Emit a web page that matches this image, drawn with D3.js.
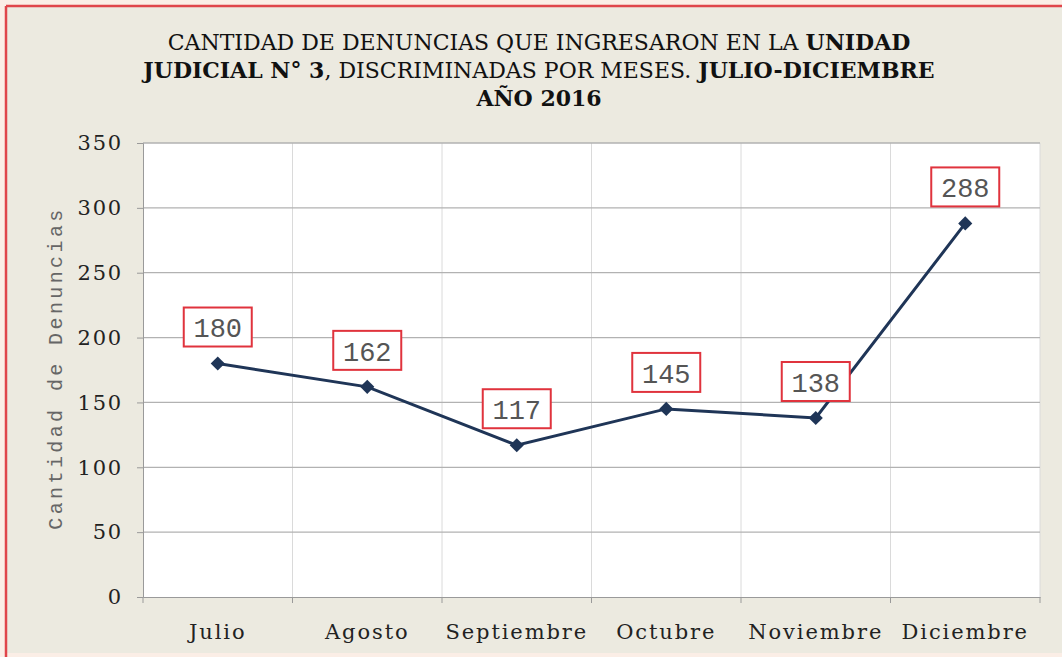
<!DOCTYPE html>
<html>
<head>
<meta charset="utf-8">
<script src="https://cdn.jsdelivr.net/npm/d3@7"></script>
<style>
  html, body { margin: 0; padding: 0; background: #fbeee6; }
  #chart { width: 1062px; height: 657px; }
</style>
</head>
<body>
<div id="chart"></div>
<script>
const months = ["Julio", "Agosto", "Septiembre", "Octubre", "Noviembre", "Diciembre"];
const denuncias = [180, 162, 117, 145, 138, 288];
const yTicks = [0, 50, 100, 150, 200, 250, 300, 350];
const titleLines = [
  [["CANTIDAD DE DENUNCIAS QUE INGRESARON EN LA ", false], ["UNIDAD", true]],
  [["JUDICIAL N° 3", true], [", DISCRIMINADAS POR MESES. ", false], ["JULIO-DICIEMBRE", true]],
  [["AÑO 2016", true]]
];
const yLabel = "Cantidad de Denuncias";

const W = 1062, H = 657;
const margin = { top: 143, right: 22, bottom: 60, left: 143 };
const width = W - margin.left - margin.right;
const height = H - margin.top - margin.bottom;

const svg = d3.select("#chart").append("svg")
  .attr("width", W)
  .attr("height", H);

// frame
svg.append("rect").attr("x", 0).attr("y", 0).attr("width", W).attr("height", H).attr("fill", "#fbeee6");
svg.append("rect").attr("x", 7).attr("y", 7).attr("width", W - 7).attr("height", 646)
  .attr("fill", "#eceae0");
svg.append("line").attr("x1", 6).attr("x2", 6).attr("y1", 6).attr("y2", H)
  .attr("stroke", "#e0454a").attr("stroke-width", 2.5);
svg.append("line").attr("x1", 6).attr("x2", W).attr("y1", 6).attr("y2", 6)
  .attr("stroke", "#e0454a").attr("stroke-width", 2.5);

// title
const title = svg.append("text")
  .attr("x", 539)
  .attr("text-anchor", "middle")
  .style("font-family", "'DejaVu Serif', serif")
  .style("font-size", "22px")
  .attr("fill", "#111");
titleLines.forEach((line, i) => {
  line.forEach((part, j) => {
    const ts = title.append("tspan")
      .text(part[0])
      .style("font-weight", part[1] ? "bold" : "normal");
    if (j === 0) ts.attr("x", 539).attr("y", 50 + i * 28);
  });
});

const g = svg.append("g").attr("transform", `translate(${margin.left},${margin.top})`);

g.append("rect").attr("width", width).attr("height", height).attr("fill", "#ffffff");

const x = d3.scaleBand().domain(months).range([0, width]).padding(0);
const y = d3.scaleLinear().domain([0, 350]).range([height, 0]);

// vertical gridlines at category borders
g.selectAll(".vgrid")
  .data(d3.range(1, months.length + 1))
  .join("line")
  .attr("x1", d => x.step() * d)
  .attr("x2", d => x.step() * d)
  .attr("y1", 0).attr("y2", height)
  .attr("stroke", "#dadada").attr("stroke-width", 1);

// horizontal gridlines
g.selectAll(".hgrid")
  .data(yTicks.slice(1))
  .join("line")
  .attr("x1", 0).attr("x2", width)
  .attr("y1", d => y(d)).attr("y2", d => y(d))
  .attr("stroke", "#b2b2b2").attr("stroke-width", 1.3);

// y axis
const yAxis = g.append("g")
  .call(d3.axisLeft(y).tickValues(yTicks).tickSize(6).tickPadding(14));
yAxis.select(".domain").attr("stroke", "#9a9a9a");
yAxis.selectAll(".tick line").attr("stroke", "#9a9a9a");
yAxis.selectAll(".tick text")
  .style("font-family", "'DejaVu Serif', serif")
  .style("font-size", "21px")
  .style("letter-spacing", "1.8px")
  .attr("fill", "#222");

// x axis
const xAxis = g.append("g")
  .attr("transform", `translate(0,${height})`)
  .call(d3.axisBottom(x).tickSize(0).tickPadding(27));
xAxis.select(".domain").attr("stroke", "#9a9a9a");
xAxis.selectAll(".tick text")
  .style("font-family", "'DejaVu Serif', serif")
  .style("font-size", "21px")
  .style("letter-spacing", "1.9px")
  .attr("fill", "#222");
g.selectAll(".xtick")
  .data(d3.range(months.length + 1))
  .join("line")
  .attr("x1", d => d * x.step()).attr("x2", d => d * x.step())
  .attr("y1", height).attr("y2", height + 6)
  .attr("stroke", "#9a9a9a");

// y label
svg.append("text")
  .attr("transform", `translate(62,${margin.top + height / 2 - 2}) rotate(-90)`)
  .attr("text-anchor", "middle")
  .style("font-family", "'Liberation Mono', monospace")
  .style("font-size", "20px")
  .style("letter-spacing", "3.4px")
  .attr("fill", "#666")
  .text(yLabel);

// line
const cx = d => x(d) + x.bandwidth() / 2;
const line = d3.line()
  .x((d, i) => cx(months[i]))
  .y(d => y(d));
g.append("path")
  .datum(denuncias)
  .attr("d", line)
  .attr("fill", "none")
  .attr("stroke", "#1f3557")
  .attr("stroke-width", 3);

g.selectAll(".pt")
  .data(denuncias)
  .join("path")
  .attr("d", d3.symbol(d3.symbolSquare, 100))
  .attr("transform", (d, i) => `translate(${cx(months[i])},${y(d)}) rotate(45)`)
  .attr("fill", "#1f3557");

// labels
const lab = g.selectAll(".lab")
  .data(denuncias)
  .join("g")
  .attr("transform", (d, i) => `translate(${cx(months[i])},${y(d) - 36})`);
lab.append("rect")
  .attr("x", -34).attr("y", -20).attr("width", 68).attr("height", 39)
  .attr("fill", "#ffffff").attr("stroke", "#e0333d").attr("stroke-width", 2);
lab.append("text")
  .attr("text-anchor", "middle")
  .attr("dy", "0.36em")
  .style("font-family", "'Liberation Mono', monospace")
  .style("font-size", "27px")
  .attr("fill", "#555")
  .text(d => d);
</script>
</body>
</html>
